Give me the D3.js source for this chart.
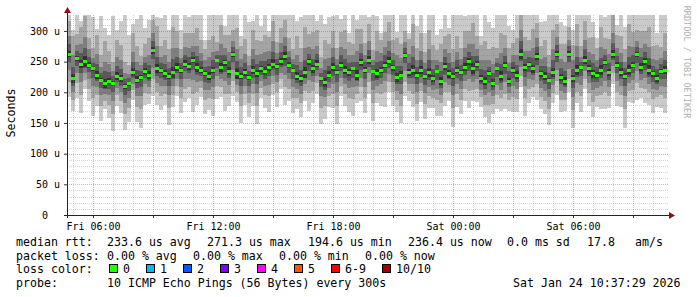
<!DOCTYPE html>
<html>
<head>
<meta charset="utf-8">
<script src="https://cdn.jsdelivr.net/npm/d3@7"></script>
<style>
  html, body { margin: 0; padding: 0; background: #fff; }
  svg { display: block; }
  text { font-family: "DejaVu Sans Mono", monospace; }
</style>
</head>
<body>
<svg id="chart" width="697" height="297"></svg>
<script>
// 12 minute steps, Fri 04:42 .. Sat 10:42 (UTC so labels stay fixed)
const startTime = Date.UTC(2026, 0, 23, 4, 42);
const stepMinutes = 12;

// median rtt per step, in microseconds
const median = [
  262,222,255,246,250,244,238,228,220,214, 218,215,226,222,210,214,232,220,224,234,
  228,268,238,236,230,226,232,240,236,246, 242,252,240,236,230,226,236,252,240,248,
  234,262,230,226,232,224,236,230,238,234, 240,246,242,250,258,244,236,226,222,232,
  250,238,246,222,216,228,240,232,244,236, 232,238,228,248,236,252,234,230,236,244,
  250,240,224,228,260,232,236,228,236,226, 232,222,234,218,242,230,226,236,232,240,
  250,238,246,222,218,230,214,238,226,244, 218,236,228,262,240,246,238,258,230,226,
  220,232,262,224,218,262,222,236,240,252, 238,230,228,236,248,232,262,244,232,226,
  236,244,262,240,250,236,230,222,234,236
];

// smoke: distance of the sorted pings from the median (us), outer pair first
const hi1 = [
  100,80,115,70,95,120,85,75,105,90, 75,110,75,95,120,80,80,100,115,70,
  90,105,85,85,120,75,95,110,65,100, 80,115,90,90,55,105,120,85,95,60,
  110,75,100,65,115,90,80,120,70,95, 60,105,85,110,75,95,120,90,100,100,
  115,90,70,105,95,95,85,120,75,110, 65,100,90,80,115,70,105,95,60,120,
  85,110,75,100,90,65,115,80,105,70, 95,120,60,85,110,75,100,90,115,85,
  80,105,95,70,120,85,90,110,100,100, 90,65,115,110,105,95,95,120,85,90,
  110,100,100,90,90,115,80,105,95,95, 120,85,60,110,75,100,90,65,115,80,
  105,95,70,120,85,95,110,75,100,90
];
const hi2 = [
  55,70,40,60,75,45,35,65,40,70, 50,35,60,55,40,30,65,55,35,45,
  60,50,70,40,55,45,75,60,35,50, 55,45,65,50,40,60,55,30,70,45,
  60,40,75,50,55,35,65,55,45,60, 50,70,40,55,60,45,35,65,50,75,
  45,60,55,35,70,50,60,40,55,65, 50,40,75,55,45,60,35,70,50,55,
  65,45,65,50,40,55,75,45,60,40, 70,55,35,60,50,65,45,55,40,60,
  50,75,45,55,65,40,60,35,70,50, 55,45,60,75,50,40,65,55,45,60,
  40,70,50,55,60,45,55,75,35,65, 50,60,45,70,40,55,65,50,60,45,
  75,55,40,60,50,70,45,55,40,60
];
const hi3 = [
  30,38,22,32,40,26,18,34,22,36, 28,20,32,30,22,16,34,30,20,24,
  32,28,38,22,30,24,40,32,20,28, 30,24,36,28,22,32,30,16,38,24,
  32,22,40,28,30,20,34,30,24,32, 28,38,22,30,32,24,18,34,28,40,
  24,32,30,18,38,28,32,22,30,34, 28,22,40,30,24,32,18,38,28,30,
  34,24,36,28,22,30,40,24,32,22, 38,30,18,32,28,34,24,30,22,32,
  28,40,24,30,34,22,32,18,38,28, 30,24,32,40,28,22,34,30,24,32,
  22,38,28,30,32,24,30,40,18,34, 28,32,24,38,22,30,34,28,32,24,
  40,30,22,32,28,38,24,30,22,32
];
const hi4 = [
  16,20,12,18,22,14,10,18,12,20, 15,11,17,16,12,9,18,16,11,13,
  17,15,20,12,16,13,22,17,11,15, 16,13,19,15,12,17,16,9,20,13,
  17,12,21,15,16,11,18,16,13,17, 15,20,12,16,17,13,10,18,15,21,
  13,17,16,10,20,15,17,12,16,18, 15,12,21,16,13,17,10,20,15,16,
  18,13,19,15,12,16,21,13,17,12, 20,16,10,17,15,18,13,16,12,17,
  15,21,13,16,18,12,17,10,20,15, 16,13,17,21,15,12,18,16,13,17,
  12,20,15,16,17,13,16,21,10,18, 15,17,13,20,12,16,18,15,17,13,
  21,16,12,17,15,20,13,16,12,17
];
const hi5 = [
  6,8,4,7,9,5,3,7,4,8, 6,4,7,6,4,3,7,6,4,5,
  7,6,8,4,6,5,9,7,4,6, 6,5,8,6,4,7,6,3,8,5,
  7,4,9,6,6,4,7,6,5,7, 6,8,4,6,7,5,3,7,6,9,
  5,7,6,3,8,6,7,4,6,7, 6,4,9,6,5,7,3,8,6,6,
  7,5,8,6,4,6,9,5,7,4, 8,6,3,7,6,7,5,6,4,7,
  6,9,5,6,7,4,7,3,8,6, 6,5,7,9,6,4,7,6,5,7,
  4,8,6,6,7,5,6,9,3,7, 6,7,5,8,4,6,7,6,7,5,
  9,6,4,7,6,8,5,6,4,7
];
const lo1 = [
  70,52,64,80,45,58,76,50,66,42, 60,78,48,55,72,62,44,68,82,54,
  47,74,58,65,50,80,56,46,70,62, 52,84,60,44,66,55,74,63,48,78,
  56,68,45,76,52,64,58,82,47,60, 72,50,66,44,78,58,70,54,62,46,
  80,56,48,74,60,52,66,84,50,58, 64,76,46,62,70,54,80,48,58,68,
  50,62,56,78,66,46,60,74,52,70, 58,48,72,56,64,44,82,60,68,54,
  76,52,62,46,58,80,50,66,56,72, 48,68,60,54,78,64,46,70,58,62,
  74,50,66,56,48,62,80,54,72,46, 60,70,52,64,76,58,48,66,56,84,
  52,62,74,50,68,56,64,46,60,70
];
const lo2 = [
  45,34,40,50,30,38,48,32,42,28, 38,50,31,36,46,40,29,44,52,35,
  31,47,38,42,33,52,36,30,45,40, 34,54,39,29,43,36,47,41,31,50,
  36,44,30,48,34,41,38,52,31,39, 46,33,42,29,50,38,45,35,40,30,
  51,36,31,47,39,34,43,54,33,38, 41,49,30,40,45,35,51,31,38,44,
  33,40,36,50,43,30,39,47,34,45, 38,31,46,36,41,29,52,39,44,35,
  48,34,40,30,38,51,33,43,36,46, 31,44,39,35,50,41,30,45,38,40,
  47,33,43,36,31,40,51,35,46,30, 39,45,34,41,48,38,31,43,36,54,
  34,40,47,33,44,36,41,30,39,45
];
const lo3 = [
  26,21,24,30,19,22,28,20,25,17, 23,29,19,22,27,24,18,26,30,21,
  19,28,23,25,20,31,22,18,27,24, 21,32,23,18,26,22,28,25,19,30,
  22,26,18,29,21,25,23,31,19,23, 28,20,25,18,30,23,27,21,24,18,
  30,22,19,28,23,21,26,32,20,23, 25,29,18,24,27,21,30,19,23,26,
  20,24,22,30,26,18,23,28,21,27, 23,19,28,22,25,18,31,23,26,21,
  29,21,24,18,23,30,20,26,22,28, 19,26,23,21,30,25,18,27,23,24,
  28,20,26,22,19,24,30,21,28,18, 23,27,21,25,29,23,19,26,22,32,
  21,24,28,20,26,22,25,18,23,27
];
const lo4 = [
  13,11,12,15,10,11,14,10,13,9, 12,15,10,11,14,12,9,13,15,11,
  10,14,12,13,10,16,11,9,14,12, 11,16,12,9,13,11,14,13,10,15,
  11,13,9,15,11,13,12,16,10,12, 14,10,13,9,15,12,14,11,12,9,
  15,11,10,14,12,11,13,16,10,12, 13,15,9,12,14,11,15,10,12,13,
  10,12,11,15,13,9,12,14,11,14, 12,10,14,11,13,9,16,12,13,11,
  15,11,12,9,12,15,10,13,11,14, 10,13,12,11,15,13,9,14,12,12,
  14,10,13,11,10,12,15,11,14,9, 12,14,11,13,15,12,10,13,11,16,
  11,12,14,10,13,11,13,9,12,14
];
const lo5 = [
  5,7,4,6,8,5,3,6,4,7, 5,4,6,5,4,3,6,5,4,5,
  6,5,7,4,5,5,8,6,4,5, 5,5,7,5,4,6,5,3,7,5,
  6,4,8,5,5,4,6,5,5,6, 5,7,4,5,6,5,3,6,5,8,
  5,6,5,3,7,5,6,4,5,6, 5,4,8,5,5,6,3,7,5,5,
  6,5,7,5,4,5,8,5,6,4, 7,5,3,6,5,6,5,5,4,6,
  5,8,5,5,6,4,6,3,7,5, 5,5,6,8,5,4,6,5,5,6,
  4,7,5,5,6,5,5,8,3,6, 5,6,5,7,4,5,6,5,6,5,
  8,5,4,6,5,7,5,5,4,6
];

const yTicks = [0, 50, 100, 150, 200, 250, 300];
const smokeColors = ["#cacaca", "#a4a4a4", "#7e7e7e", "#585858", "#323232"];
const lossLabels = ["0", "1", "2", "3", "4", "5", "6-9", "10/10"];
const lossColors = ["#26ff00", "#00b8ff", "#0059ff", "#7e00ff", "#ff00ff", "#ff5500", "#ff0000", "#a10000"];

const plotLeft = 67, plotRight = 667, plotTop = 15, plotBottom = 215;
const svg = d3.select("#chart");

const t0 = new Date(startTime);
const t1 = new Date(startTime + 30 * 3600 * 1000);
const x = d3.scaleUtc().domain([t0, t1]).range([plotLeft, plotRight]);
const y = d3.scaleLinear().domain([0, 326]).range([plotBottom, plotTop]);
const timeAt = i => new Date(startTime + i * stepMinutes * 60000);

svg.append("defs").append("clipPath").attr("id", "plot")
  .append("rect").attr("x", plotLeft).attr("y", plotTop)
  .attr("width", plotRight - plotLeft).attr("height", plotBottom - plotTop);

// smoke, outer pings first
const bands = [[hi1, lo1], [hi2, lo2], [hi3, lo3], [hi4, lo4], [hi5, lo5]];
const smoke = svg.append("g").attr("clip-path", "url(#plot)")
  .attr("shape-rendering", "crispEdges");
bands.forEach(([hi, lo], k) => {
  smoke.append("g").attr("fill", smokeColors[k])
    .selectAll("rect").data(median).join("rect")
    .attr("x", (d, i) => x(timeAt(i)))
    .attr("width", (d, i) => x(timeAt(i + 1)) - x(timeAt(i)))
    .attr("y", (d, i) => y(d + hi[i]))
    .attr("height", (d, i) => y(d - lo[i]) - y(d + hi[i]));
});

// median, coloured by loss (all 0 here)
smoke.append("g").attr("fill", lossColors[0])
  .selectAll("rect").data(median).join("rect")
  .attr("x", (d, i) => x(timeAt(i)))
  .attr("width", (d, i) => x(timeAt(i + 1)) - x(timeAt(i)))
  .attr("y", d => y(d) - 1.5)
  .attr("height", 3);

// grid on top, dotted, like rrdtool
const grid = svg.append("g").attr("shape-rendering", "crispEdges")
  .attr("stroke-dasharray", "1,1").attr("fill", "none");
const minorY = d3.range(10, 330, 10).filter(v => v % 50 !== 0);
grid.selectAll(".hmin").data(minorY).join("line")
  .attr("x1", plotLeft).attr("x2", plotRight + 1)
  .attr("y1", d => Math.round(y(d)) + 0.5).attr("y2", d => Math.round(y(d)) + 0.5)
  .attr("stroke", "rgba(128,128,128,0.35)");
const hours = x.ticks(d3.utcHour.every(1));
grid.selectAll(".vmin").data(hours.filter(d => d.getUTCHours() % 3 !== 0)).join("line")
  .attr("x1", d => Math.round(x(d)) + 0.5).attr("x2", d => Math.round(x(d)) + 0.5)
  .attr("y1", plotTop).attr("y2", plotBottom)
  .attr("stroke", "rgba(128,128,128,0.35)");
grid.selectAll(".hmaj").data(yTicks.slice(1)).join("line")
  .attr("x1", plotLeft).attr("x2", plotRight + 1)
  .attr("y1", d => Math.round(y(d)) + 0.5).attr("y2", d => Math.round(y(d)) + 0.5)
  .attr("stroke", "rgba(210,40,40,0.4)");
grid.selectAll(".vmaj").data(hours.filter(d => d.getUTCHours() % 3 === 0)).join("line")
  .attr("x1", d => Math.round(x(d)) + 0.5).attr("x2", d => Math.round(x(d)) + 0.5)
  .attr("y1", plotTop).attr("y2", plotBottom)
  .attr("stroke", "rgba(210,40,40,0.4)");

// axes
const yAxis = svg.append("g").attr("transform", `translate(${plotLeft},0)`)
  .call(d3.axisLeft(y).tickValues(yTicks).tickSize(3).tickPadding(4)
    .tickFormat(v => v === 0 ? "0" : v + " u"));
yAxis.select(".domain").remove();
yAxis.selectAll("line").attr("stroke", "#333");
yAxis.selectAll("text").attr("font-size", 10).attr("fill", "#000")
  .attr("font-family", "DejaVu Sans Mono")
  .filter(d => d === 0).attr("x", -19);

const xAxis = svg.append("g").attr("transform", `translate(0,${plotBottom})`)
  .call(d3.axisBottom(x).ticks(d3.utcHour.every(6)).tickSize(0).tickPadding(8)
    .tickFormat(d3.utcFormat("%a %H:%M")));
xAxis.select(".domain").remove();
xAxis.selectAll("text").attr("font-size", 10).attr("fill", "#000")
  .attr("font-family", "DejaVu Sans Mono");

const xTicks = svg.append("g").attr("transform", `translate(0,${plotBottom})`)
  .call(d3.axisBottom(x).ticks(d3.utcHour.every(3)).tickSize(3).tickFormat(""));
xTicks.select(".domain").remove();
xTicks.selectAll("line").attr("stroke", "#333");

svg.append("line").attr("x1", plotLeft + 0.5).attr("x2", plotLeft + 0.5)
  .attr("y1", plotBottom + 3).attr("y2", 11).attr("stroke", "#222");
svg.append("line").attr("x1", plotLeft - 3).attr("x2", plotRight + 4)
  .attr("y1", plotBottom + 0.5).attr("y2", plotBottom + 0.5).attr("stroke", "#222");
svg.append("path").attr("d", `M${plotLeft - 3},13 L${plotLeft + 0.5},7 L${plotLeft + 4},13 Z`).attr("fill", "#8b1010");
svg.append("path").attr("d", `M${plotRight + 2},${plotBottom - 3} L${plotRight + 8},${plotBottom + 0.5} L${plotRight + 2},${plotBottom + 4} Z`).attr("fill", "#8b1010");

// axis title and watermark
svg.append("text").attr("transform", "translate(15,113) rotate(-90)")
  .attr("text-anchor", "middle").attr("font-size", 11.6).attr("fill", "#000")
  .text("Seconds");
svg.append("text").attr("transform", "translate(684,62) rotate(90)")
  .attr("text-anchor", "middle").attr("font-size", 8.5).attr("fill", "#b0b0b0")
  .text("RRDTOOL / TOBI OETIKER");

// legend
const legend = svg.append("g").attr("font-size", 11.6).attr("fill", "#000");
const rows = [
  [246, [["median rtt:", 16], ["233.6 us avg", 107], ["271.3 us max", 207], ["194.6 us min", 308],
         ["236.4 us now", 408], ["0.0 ms sd", 507], ["17.8", 587], ["am/s", 635]]],
  [259.5, [["packet loss:", 16], ["0.00 % avg", 107], ["0.00 % max", 193], ["0.00 % min", 279], ["0.00 % now", 365]]],
  [273, [["loss color:", 16]]],
  [286.5, [["probe:", 16], ["10 ICMP Echo Pings (56 Bytes) every 300s", 107], ["Sat Jan 24 10:37:29 2026", 513]]]
];
rows.forEach(([by, items]) => {
  items.forEach(([s, bx]) => {
    legend.append("text").attr("x", bx).attr("y", by).attr("xml:space", "preserve").text(s);
  });
});
const boxX = [109, 146, 183, 220, 257, 294, 331, 382];
lossLabels.forEach((lab, i) => {
  legend.append("rect").attr("x", boxX[i] + 0.5).attr("y", 264.5).attr("width", 8).attr("height", 8)
    .attr("fill", lossColors[i]).attr("stroke", "#000").attr("stroke-width", 1);
  legend.append("text").attr("x", boxX[i] + 14).attr("y", 273).text(lab);
});
</script>
</body>
</html>
